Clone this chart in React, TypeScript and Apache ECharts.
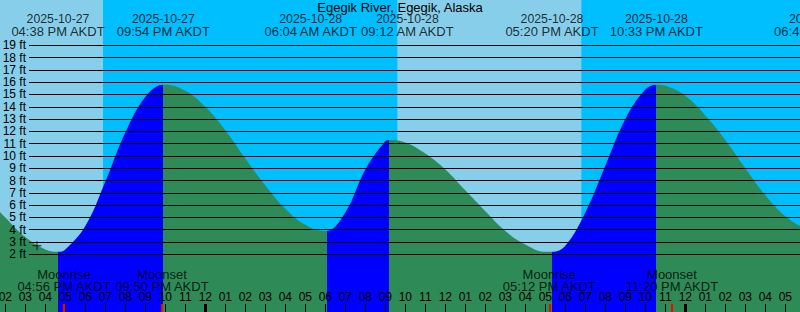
import React, { useEffect, useRef } from "react";
import * as echarts from "echarts";

// ---------- data ----------
const titleText = "Egegik River, Egegik, Alaska";
const viewStart = "2025-10-27 13:44";
const viewHours = 40;

// tide extremes (high / low)
const extremeTimes = [
  "2025-10-27 16:38",
  "2025-10-27 21:54",
  "2025-10-28 06:04",
  "2025-10-28 09:12",
  "2025-10-28 17:20",
  "2025-10-28 22:33",
  "2025-10-29 06:45",
];
const extremeHeights = [2.2, 15.8, 3.9, 11.3, 2.2, 15.8, 3.8];

// hourly tide heights (ft)
const readingTimes = [
  "2025-10-27 12:00", "2025-10-27 13:00", "2025-10-27 14:00", "2025-10-27 15:00",
  "2025-10-27 16:00", "2025-10-27 17:00", "2025-10-27 18:00", "2025-10-27 19:00",
  "2025-10-27 20:00", "2025-10-27 21:00", "2025-10-27 22:00", "2025-10-27 23:00",
  "2025-10-28 00:00", "2025-10-28 01:00", "2025-10-28 02:00", "2025-10-28 03:00",
  "2025-10-28 04:00", "2025-10-28 05:00", "2025-10-28 06:00", "2025-10-28 07:00",
  "2025-10-28 08:00", "2025-10-28 09:00", "2025-10-28 10:00", "2025-10-28 11:00",
  "2025-10-28 12:00", "2025-10-28 13:00", "2025-10-28 14:00", "2025-10-28 15:00",
  "2025-10-28 16:00", "2025-10-28 17:00", "2025-10-28 18:00", "2025-10-28 19:00",
  "2025-10-28 20:00", "2025-10-28 21:00", "2025-10-28 22:00", "2025-10-28 23:00",
  "2025-10-29 00:00", "2025-10-29 01:00", "2025-10-29 02:00", "2025-10-29 03:00",
  "2025-10-29 04:00", "2025-10-29 05:00", "2025-10-29 06:00",
];
const readingHeights = [
  8.2, 6.7, 5.0, 3.4,
  2.4, 2.4, 4.3, 7.9,
  11.9, 14.8, 15.8, 15.3,
  14.0, 12.1, 9.8, 7.6,
  5.7, 4.4, 3.9, 5.4,
  8.9, 11.2, 11.1, 10.2,
  8.9, 7.2, 5.5, 3.9,
  2.8, 2.2, 2.7, 5.4,
  9.2, 13.0, 15.4, 15.7,
  14.9, 13.3, 11.3, 9.0,
  6.8, 5.1, 4.1,
];

// night (sunset -> sunrise)
const nightStarts = ["2025-10-27 18:53", "2025-10-28 18:48"];
const nightEnds = ["2025-10-28 09:36", "2025-10-29 09:39"];

// moon events
const moonEvents = ["Moonrise", "Moonset", "Moonrise", "Moonset"];
const moonTimes = ["2025-10-27 16:56", "2025-10-27 21:50", "2025-10-28 17:12", "2025-10-28 23:20"];

// current time marker
const nowTime = "2025-10-27 15:35";
const nowHeight = 2.7;

// axis ticks
const depthTicks = [2, 3, 4, 5, 6, 7, 8, 9, 10, 11, 12, 13, 14, 15, 16, 17, 18, 19];
const hourTickStart = "2025-10-27 14:00";
const hourTickLabels = [
  "02", "03", "04", "05", "06", "07", "08", "09", "10", "11",
  "12", "01", "02", "03", "04", "05", "06", "07", "08", "09", "10", "11",
  "12", "01", "02", "03", "04", "05", "06", "07", "08", "09", "10", "11",
  "12", "01", "02", "03", "04", "05",
];
const midnightTimes = ["2025-10-28 00:00", "2025-10-29 00:00"];

// ---------- layout / style ----------
const W = 800;
const Hpx = 312;
const yMin = -2.693;
const yMax = 22.685;
const FONT = '"Liberation Sans", Arial, Helvetica, sans-serif';
const DAY = "#87CEEB";
const NIGHT = "#00BFFF";
const RISING = "#0000FF";
const FALLING = "#2E8B57";
// horizontal nudges (px) that keep neighbouring header labels apart
const headerNudge = [0, 0, -16, 18, 0, 0, 0];

const REF = Date.UTC(2025, 9, 28, 0, 0);
function toH(s: string): number {
  const [d, t] = s.split(" ");
  const [y, mo, da] = d.split("-").map(Number);
  const [hh, mm] = t.split(":").map(Number);
  return (Date.UTC(y, mo - 1, da, hh, mm) - REF) / 3.6e6;
}
function fmt12(s: string): string {
  const t = s.split(" ")[1];
  const [hh, mm] = t.split(":").map(Number);
  const h12 = hh % 12 === 0 ? 12 : hh % 12;
  const ap = hh < 12 ? "AM" : "PM";
  return `${String(h12).padStart(2, "0")}:${String(mm).padStart(2, "0")} ${ap} AKDT`;
}

const xMin = toH(viewStart);
const xMax = xMin + viewHours;
const pxPerFt = Hpx / (yMax - yMin);
const headerY = yMax - 25 / pxPerFt;
const moonY = yMax - 280 / pxPerFt;

function buildOption() {
  const pts: [number, number][] = [];
  readingTimes.forEach((t, i) => pts.push([toH(t), readingHeights[i]]));
  extremeTimes.forEach((t, i) => pts.push([toH(t), extremeHeights[i]]));
  pts.sort((a, b) => a[0] - b[0]);

  const ex = extremeTimes.map(toH);
  const n = ex.length;
  const pieces: any[] = [];
  for (let i = 0; i <= n; i++) {
    let rising: boolean;
    if (i === 0) rising = extremeHeights[0] > extremeHeights[1];
    else if (i === n) rising = extremeHeights[n - 1] < extremeHeights[n - 2];
    else rising = extremeHeights[i] > extremeHeights[i - 1];
    const p: any = { color: rising ? RISING : FALLING };
    if (i > 0) p.gte = ex[i - 1];
    if (i < n) p.lt = ex[i];
    pieces.push(p);
  }

  const nights = nightStarts.map((s, i) => [
    { xAxis: Math.max(toH(s), xMin) },
    { xAxis: Math.min(toH(nightEnds[i]), xMax) },
  ]);

  const hourStart = toH(hourTickStart);
  const hourValues = hourTickLabels.map((_, i) => hourStart + i);
  const labelFor = (v: number) => {
    const i = Math.round(v - hourStart);
    return hourTickLabels[i] ?? "";
  };

  const baseX = {
    type: "value",
    min: xMin,
    max: xMax,
    position: "bottom",
    z: 10,
    splitLine: { show: false },
    axisLine: { show: false, onZero: false },
  };

  const txt = { color: "#000", fontFamily: FONT };

  return {
    animation: false,
    backgroundColor: DAY,
    title: {
      text: titleText,
      left: "center",
      top: 1,
      padding: 0,
      textStyle: { fontSize: 13, fontWeight: "normal", color: "#000", fontFamily: FONT, lineHeight: 13 },
    },
    grid: { left: 0, right: 0, top: 0, bottom: 0, containLabel: false, outerBoundsMode: "none" },
    xAxis: [
      {
        ...baseX,
        axisTick: { show: true, inside: true, length: 8, customValues: hourValues, lineStyle: { color: "#000", width: 1 } },
        axisLabel: {
          show: true,
          inside: true,
          margin: 9,
          customValues: hourValues,
          formatter: (v: number) => labelFor(v),
          color: "#000",
          fontSize: 12,
          fontFamily: FONT,
        },
      },
      {
        ...baseX,
        axisTick: { show: true, inside: true, length: 8, customValues: midnightTimes.map(toH), lineStyle: { color: "#000", width: 3 } },
        axisLabel: { show: false },
      },
      {
        ...baseX,
        axisTick: { show: true, inside: true, length: 8, customValues: moonTimes.map(toH), lineStyle: { color: "#FF0000", width: 2 } },
        axisLabel: { show: false },
      },
    ],
    yAxis: {
      type: "value",
      min: yMin,
      max: yMax,
      position: "left",
      offset: -29,
      z: 10,
      splitLine: { show: false },
      axisLine: { show: false, onZero: false },
      axisTick: { show: true, inside: true, length: W - 29, customValues: depthTicks, lineStyle: { color: "#000", width: 1 } },
      axisLabel: {
        show: true,
        customValues: depthTicks,
        formatter: (v: number) => `${v} ft`,
        margin: 3,
        color: "#000",
        fontSize: 12,
        fontFamily: FONT,
      },
    },
    visualMap: {
      type: "piecewise",
      show: false,
      dimension: 0,
      seriesIndex: 0,
      pieces,
    },
    series: [
      {
        type: "line",
        data: pts,
        smooth: 0.4,
        symbol: "none",
        showSymbol: false,
        silent: true,
        z: 2,
        lineStyle: { width: 0, opacity: 0 },
        areaStyle: { origin: "start", opacity: 1 },
        markArea: {
          silent: true,
          z: 1,
          itemStyle: { color: NIGHT, opacity: 1 },
          data: nights,
        },
      },
      {
        type: "scatter",
        silent: true,
        clip: false,
        z: 6,
        symbol: "circle",
        symbolSize: 1,
        itemStyle: { color: "transparent" },
        data: extremeTimes.map((t, i) => ({
          value: [toH(t), headerY],
          name: t,
          label: { offset: [headerNudge[i], 0] },
        })),
        label: {
          show: true,
          position: "inside",
          formatter: (p: any) => `{d|${p.name.split(" ")[0]}}\n{t|${fmt12(p.name)}}`,
          align: "center",
          rich: {
            d: { ...txt, fontSize: 12.3, lineHeight: 12.6, align: "center" },
            t: { ...txt, fontSize: 13, lineHeight: 12.6, align: "center" },
          },
        },
      },
      {
        type: "scatter",
        silent: true,
        clip: false,
        z: 6,
        symbol: "circle",
        symbolSize: 1,
        itemStyle: { color: "transparent" },
        data: moonTimes.map((t) => ({ value: [toH(t), moonY], name: t })),
        label: {
          show: true,
          position: "inside",
          formatter: (p: any) => `{e|${moonEvents[p.dataIndex]}}\n{t|${fmt12(p.name)}}`,
          align: "center",
          rich: {
            e: { ...txt, fontSize: 13, lineHeight: 12, align: "center" },
            t: { ...txt, fontSize: 13, lineHeight: 12, align: "center" },
          },
        },
      },
      {
        type: "scatter",
        silent: true,
        z: 7,
        symbol: "path://M0 5 L10 5 M5 0 L5 10",
        symbolSize: 9,
        itemStyle: { color: "none", borderColor: "#000", borderWidth: 1 },
        data: [[toH(nowTime), nowHeight]],
      },
    ],
  };
}

export default function App() {
  const ref = useRef<HTMLDivElement>(null);
  useEffect(() => {
    if (!ref.current) return;
    const chart = echarts.init(ref.current, null, { renderer: "svg" });
    chart.setOption(buildOption() as any);
    return () => chart.dispose();
  }, []);
  return (
    <div
      ref={ref}
      style={{ position: "absolute", left: 0, top: 0, width: W, height: Hpx }}
    />
  );
}
